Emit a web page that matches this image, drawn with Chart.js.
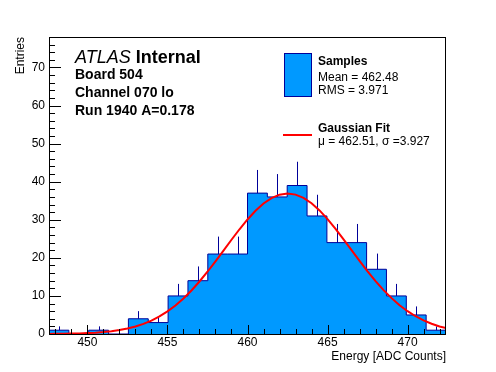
<!DOCTYPE html>
<html>
<head>
<meta charset="utf-8">
<script src="https://cdn.jsdelivr.net/npm/chart.js@4"></script>
<style>
    body { margin: 0; background: #fff; }
    #wrap { width: 496px; height: 372px; }
</style>
</head>
<body>
<div id="wrap"><canvas id="chart" width="496" height="372"></canvas></div>
<script>
// histogram bins (1.24 ADC counts wide)
const binEdges = [447.6, 448.84, 450.08, 451.32, 452.56, 453.8, 455.04, 456.28, 457.52, 458.76, 460.0,
                  461.24, 462.48, 463.72, 464.96, 466.2, 467.44, 468.68, 469.92, 471.16, 472.4];
const binCounts = [1, 0, 1, 0, 4, 3, 10, 14, 21, 21, 37, 36, 39, 31, 24, 24, 17, 10, 5, 1];
const binErrors = [1, 0, 1, 0, 2, 1.73, 3.16, 3.74, 4.58, 4.58, 6.08, 6, 6.24, 5.57, 4.9, 4.9, 4.12, 3.16, 2.24, 1];

// gaussian fit curve
const fitX = [447.6, 448, 448.5, 449, 449.5, 450, 450.5, 451, 451.5, 452, 452.5, 453, 453.5, 454, 454.5,
              455, 455.5, 456, 456.5, 457, 457.5, 458, 458.5, 459, 459.5, 460, 460.5, 461, 461.5, 462,
              462.5, 463, 463.5, 464, 464.5, 465, 465.5, 466, 466.5, 467, 467.5, 468, 468.5, 469, 469.5,
              470, 470.5, 471, 471.5, 472, 472.4];
const fitY = [0.03, 0.04, 0.06, 0.10, 0.15, 0.23, 0.34, 0.50, 0.72, 1.03, 1.43, 1.97, 2.65, 3.53, 4.61,
              5.93, 7.50, 9.34, 11.44, 13.79, 16.35, 19.08, 21.92, 24.75, 27.51, 30.08, 32.37, 34.27, 35.70, 36.59,
              36.90, 36.61, 35.75, 34.34, 32.45, 30.18, 27.62, 24.86, 22.02, 19.19, 16.46, 13.89, 11.53, 9.42, 7.57,
              5.99, 4.66, 3.57, 2.69, 1.99, 1.55];

const xTicks = [450, 455, 460, 465, 470];
const yTicks = [0, 10, 20, 30, 40, 50, 60, 70];
const xRange = [447.6, 472.4];
const yRange = [0, 78];

const infoLines = ['Board 504', 'Channel 070 lo', 'Run 1940 A=0.178'];
const sampleStats = ['Mean = 462.48', 'RMS = 3.971'];
const fitStats = ['\u03bc = 462.51, \u03c3 =3.927'];

const FONT = '"Liberation Sans", Arial, Helvetica, sans-serif';
const FILL = 'rgb(0,153,255)';
const LINE = 'rgb(0,0,153)';

// step line points: each bin's left edge, plus the last right edge
const histPoints = binEdges.map((x, i) => ({ x: x, y: binCounts[Math.min(i, binCounts.length - 1)] }));
const fitPoints = fitX.map((x, i) => ({ x: x, y: fitY[i] }));

// error bars only above the bar, drawn right after the histogram
const errorBars = {
    id: 'errorBars',
    afterDatasetDraw(chart, args) {
        if (args.index !== 1) return;
        const { ctx, scales: { x, y } } = chart;
        ctx.save();
        ctx.strokeStyle = LINE;
        ctx.lineWidth = 1;
        binCounts.forEach((n, i) => {
            if (n === 0) return;
            const px = Math.round(x.getPixelForValue((binEdges[i] + binEdges[i + 1]) / 2)) + 0.5;
            ctx.beginPath();
            ctx.moveTo(px, y.getPixelForValue(n));
            ctx.lineTo(px, y.getPixelForValue(n + binErrors[i]));
            ctx.stroke();
        });
        ctx.restore();
    }
};

// ROOT style frame, inward ticks, labels and legend
const rootFrame = {
    id: 'rootFrame',
    afterDraw(chart) {
        const { ctx, chartArea: a, scales: { x, y } } = chart;
        ctx.save();
        ctx.strokeStyle = '#000';
        ctx.lineWidth = 1;
        ctx.strokeRect(a.left + 0.5, a.top + 0.5, a.right - a.left - 1, a.bottom - a.top);

        ctx.beginPath();
        for (let v = yRange[0]; v <= yRange[1]; v += 2) {
            const py = Math.round(y.getPixelForValue(v)) + 0.5;
            const len = yTicks.includes(v) ? 12 : 6;
            ctx.moveTo(a.left, py);
            ctx.lineTo(a.left + len, py);
        }
        for (let v = Math.ceil(xRange[0]); v <= xRange[1]; v += 1) {
            const px = Math.round(x.getPixelForValue(v)) + 0.5;
            const len = xTicks.includes(v) ? 9 : 5;
            ctx.moveTo(px, a.bottom);
            ctx.lineTo(px, a.bottom - len);
        }
        ctx.stroke();

        // top-left labels
        ctx.fillStyle = '#000';
        ctx.textBaseline = 'alphabetic';
        ctx.textAlign = 'left';
        ctx.font = 'italic 18px ' + FONT;
        ctx.fillText('ATLAS', 75, 63);
        const w = ctx.measureText('ATLAS ').width;
        ctx.font = 'bold 18px ' + FONT;
        ctx.fillText('Internal', 75 + w, 63);
        ctx.font = 'bold 14px ' + FONT;
        infoLines.forEach((t, i) => ctx.fillText(t, 75, 79 + i * 18));

        // legend
        ctx.fillStyle = FILL;
        ctx.fillRect(284, 53, 27, 43);
        ctx.strokeStyle = LINE;
        ctx.strokeRect(284.5, 53.5, 27, 43);
        ctx.strokeStyle = 'rgb(255,0,0)';
        ctx.lineWidth = 2;
        ctx.beginPath();
        ctx.moveTo(283, 135);
        ctx.lineTo(312, 135);
        ctx.stroke();

        ctx.fillStyle = '#000';
        ctx.font = 'bold 12px ' + FONT;
        ctx.fillText('Samples', 318, 65);
        ctx.fillText('Gaussian Fit', 318, 132);
        ctx.font = '12px ' + FONT;
        sampleStats.forEach((t, i) => ctx.fillText(t, 318, 81 + i * 12.5));
        fitStats.forEach((t, i) => ctx.fillText(t, 318, 145 + i * 12.5));
        ctx.restore();
    }
};

new Chart(document.getElementById('chart'), {
    type: 'line',
    data: {
        datasets: [{
            label: 'Gaussian Fit',
            data: fitPoints,
            borderColor: 'rgb(255,0,0)',
            borderWidth: 2,
            pointRadius: 0,
            fill: false,
            tension: 0
        }, {
            label: 'Samples',
            data: histPoints,
            stepped: 'before',
            borderColor: LINE,
            borderWidth: 1,
            backgroundColor: FILL,
            pointRadius: 0,
            fill: 'origin'
        }]
    },
    options: {
        responsive: false,
        animation: false,
        events: [],
        layout: { padding: { left: 0, right: 50, top: 37, bottom: 0 } },
        plugins: { legend: { display: false }, tooltip: { enabled: false } },
        scales: {
            x: {
                type: 'linear',
                min: xRange[0],
                max: xRange[1],
                grid: { display: false, drawTicks: false },
                border: { display: false },
                afterBuildTicks: s => { s.ticks = xTicks.map(v => ({ value: v })); },
                afterFit: s => { s.height = 38; },
                ticks: { color: '#000', padding: 1, maxRotation: 0, font: { family: FONT, size: 12 } },
                title: {
                    display: true, text: 'Energy [ADC Counts]', align: 'end', color: '#000',
                    padding: { top: 0, bottom: 8 }, font: { family: FONT, size: 12 }
                }
            },
            y: {
                min: yRange[0],
                max: yRange[1],
                grid: { display: false, drawTicks: false },
                border: { display: false },
                afterBuildTicks: s => { s.ticks = yTicks.map(v => ({ value: v })); },
                afterFit: s => { s.width = 49; },
                ticks: { color: '#000', padding: 4, font: { family: FONT, size: 12 } },
                title: {
                    display: true, text: 'Entries', align: 'end', color: '#000',
                    padding: { top: 13, bottom: 0 }, font: { family: FONT, size: 12 }
                }
            }
        }
    },
    plugins: [errorBars, rootFrame]
});
</script>
</body>
</html>
